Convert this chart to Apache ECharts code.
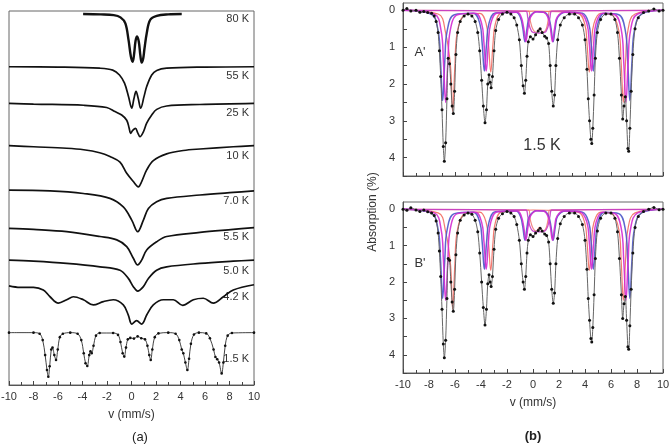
<!DOCTYPE html>
<html><head><meta charset="utf-8">
<script src="https://cdn.jsdelivr.net/npm/echarts@6/dist/echarts.min.js"></script>
<style>html,body{margin:0;padding:0;background:#fff}#c{width:671px;height:444px}</style>
</head><body><div id="c"></div>
<script>
// ---------- DATA ----------
// Panel (a): temperatures, vertical stacking offsets and spectra [v (mm/s), relative absorption]
const temps = ['80 K', '55 K', '25 K', '10 K', '7.0 K', '5.5 K', '5.0 K', '4.2 K', '1.5 K'];
const offsets = [0.08, 1.49, 2.47, 3.6, 4.79, 5.81, 6.66, 7.35, 8.6];
const sp80 = [[-3.95,0],[-2.5,0.01],[-1.45,0.03],[-0.9,0.09],[-0.5,0.25],[-0.24,0.7],[-0.05,1.14],[0.1,1.28],[0.22,1.05],[0.33,0.72],[0.46,0.6],[0.6,0.75],[0.72,1.1],[0.83,1.3],[0.95,1.2],[1.05,0.95],[1.24,0.52],[1.52,0.16],[2.06,0.05],[3,0.01],[4.1,0]];
const sp55 = [[-10,0],[-6,0.01],[-2.6,0.04],[-1.53,0.09],[-0.98,0.22],[-0.57,0.44],[-0.24,0.8],[0.02,1.11],[0.2,0.85],[0.37,0.66],[0.55,0.85],[0.75,1.11],[1.02,0.8],[1.24,0.53],[1.65,0.22],[2.06,0.1],[2.87,0.04],[6,0.01],[10,0]];
const sp25 = [[-10,0],[-8,0.02],[-3.9,0.05],[-2.03,0.11],[-1.35,0.22],[-0.8,0.31],[-0.39,0.45],[-0.2,0.65],[-0.07,0.8],[0.1,0.72],[0.33,0.67],[0.5,0.78],[0.69,0.89],[0.97,0.76],[1.24,0.53],[1.65,0.31],[2.06,0.16],[2.87,0.07],[5.59,0.03],[10,0]];
const sp10 = [[-10,0],[-8,0.03],[-5.3,0.07],[-3.9,0.11],[-2.6,0.19],[-1.76,0.29],[-0.94,0.44],[-0.39,0.74],[0.15,0.96],[0.56,1.1],[0.83,0.96],[1.24,0.65],[1.78,0.4],[2.87,0.22],[4.23,0.13],[5.59,0.09],[8.31,0.03],[10,0]];
const sp7 = [[-10,0],[-6.65,0.02],[-3.93,0.09],[-1.76,0.22],[-0.67,0.45],[0.02,0.8],[0.51,1.11],[0.97,0.8],[1.38,0.49],[2.05,0.31],[2.87,0.22],[5.59,0.13],[8.31,0.06],[10,0.02]];
const sp55b = [[-10,0],[-8,0.03],[-5.29,0.09],[-2.57,0.22],[-1.2,0.31],[-0.39,0.49],[0.15,0.8],[0.5,0.98],[0.83,0.85],[1.24,0.58],[2.05,0.36],[2.87,0.22],[5.59,0.11],[8.31,0.03],[10,-0.02]];
const sp50 = [[-10,0],[-8,0.03],[-5.29,0.09],[-2.57,0.18],[-0.94,0.27],[-0.26,0.49],[0.15,0.71],[0.5,0.83],[0.97,0.71],[1.38,0.49],[2.05,0.27],[2.87,0.18],[5.59,0.09],[8.31,0.03],[10,0]];
const sp42 = [[-10,0],[-9.1,0.04],[-8,0.04],[-7.2,0.11],[-6.65,0.29],[-5.97,0.46],[-5.29,0.37],[-4.75,0.29],[-3.93,0.37],[-3.12,0.51],[-2.3,0.42],[-1.49,0.37],[-0.67,0.51],[-0.26,0.78],[0.02,1.02],[0.42,0.93],[0.83,1.02],[1.24,0.78],[1.78,0.51],[2.6,0.37],[3.41,0.37],[4.18,0.52],[5.05,0.37],[5.86,0.33],[6.68,0.46],[7.5,0.29],[8.31,0.11],[10,-0.03]];
const sp15a = [[-10,0],[-8,0],[-7.5,0.03],[-7.25,0.2],[-7.05,0.6],[-6.9,1.0],[-6.79,1.18],[-6.68,0.9],[-6.55,0.45],[-6.45,0.4],[-6.3,0.6],[-6.16,0.73],[-6.02,0.45],[-5.85,0.12],[-5.6,0.03],[-5,0],[-4.4,0.03],[-4.1,0.2],[-3.9,0.55],[-3.75,0.82],[-3.61,0.89],[-3.45,0.6],[-3.35,0.5],[-3.25,0.55],[-3.1,0.35],[-2.9,0.08],[-2.6,0.01],[-1.5,0.01],[-1.1,0.06],[-0.9,0.25],[-0.72,0.55],[-0.59,0.64],[-0.45,0.4],[-0.3,0.18],[-0.1,0.14],[0.2,0.16],[0.5,0.1],[0.8,0.15],[1.1,0.18],[1.3,0.35],[1.45,0.6],[1.57,0.73],[1.7,0.45],[1.9,0.12],[2.2,0.02],[3,0],[3.6,0.03],[3.9,0.2],[4.1,0.45],[4.23,0.55],[4.4,0.8],[4.56,1.0],[4.7,0.7],[4.85,0.3],[5.1,0.05],[5.5,0],[6.1,0.02],[6.4,0.15],[6.7,0.45],[6.85,0.65],[7.0,0.71],[7.15,0.8],[7.36,1.09],[7.5,0.8],[7.65,0.35],[7.85,0.08],[8.2,0.01],[10,0]];
const spectraA = [sp80, sp55, sp25, sp10, sp7, sp55b, sp50, sp42, sp15a];

// Panel (b): 1.5 K spectra A' and B' (absorption %)
const specA = [[-10,0],[-9.7,-0.05],[-9.4,0.02],[-9,0],[-8.7,0.05],[-8.4,0.03],[-8.1,0.06],[-7.8,0.08],[-7.6,0.15],[-7.45,0.3],[-7.3,0.6],[-7.2,1.1],[-7.1,1.8],[-7.0,2.7],[-6.9,3.7],[-6.82,4.1],[-6.72,3.6],[-6.62,2.4],[-6.52,1.3],[-6.42,1.45],[-6.32,2.0],[-6.22,2.6],[-6.13,2.8],[-6.03,2.2],[-5.93,1.2],[-5.8,0.6],[-5.6,0.3],[-5.3,0.15],[-5.0,0.1],[-4.7,0.15],[-4.45,0.3],[-4.25,0.6],[-4.1,1.1],[-3.95,1.9],[-3.82,2.6],[-3.69,3.05],[-3.58,2.7],[-3.48,2.0],[-3.38,1.75],[-3.3,1.95],[-3.22,2.1],[-3.12,1.8],[-3.0,1.1],[-2.87,0.55],[-2.65,0.25],[-2.35,0.1],[-2.0,0.05],[-1.7,0.1],[-1.45,0.2],[-1.25,0.4],[-1.05,0.8],[-0.9,1.5],[-0.76,2.05],[-0.66,2.25],[-0.56,1.9],[-0.46,1.25],[-0.36,0.85],[-0.2,0.72],[0,0.78],[0.2,0.66],[0.4,0.56],[0.55,0.5],[0.7,0.6],[0.9,0.7],[1.05,0.75],[1.2,0.9],[1.32,1.5],[1.44,2.2],[1.56,2.6],[1.66,2.3],[1.76,1.5],[1.9,0.8],[2.1,0.4],[2.4,0.2],[2.8,0.1],[3.2,0.1],[3.5,0.2],[3.8,0.4],[4.0,0.8],[4.15,1.6],[4.25,2.4],[4.35,3.0],[4.45,3.5],[4.52,3.62],[4.6,3.2],[4.7,2.3],[4.8,1.3],[4.95,0.6],[5.2,0.25],[5.6,0.1],[6.0,0.1],[6.3,0.25],[6.5,0.6],[6.65,1.3],[6.8,2.3],[6.9,2.95],[7.0,2.6],[7.1,2.35],[7.2,3.0],[7.3,3.75],[7.36,3.83],[7.45,3.2],[7.55,2.2],[7.68,1.2],[7.85,0.5],[8.1,0.2],[8.5,0.06],[8.9,0.02],[9.3,-0.04],[9.7,0.02],[10,0]];
const specB = [[-10,0],[-9.7,0.03],[-9.4,-0.04],[-9,0.02],[-8.7,0.06],[-8.4,0.02],[-8.1,0.07],[-7.8,0.1],[-7.6,0.17],[-7.45,0.32],[-7.3,0.65],[-7.2,1.15],[-7.1,1.85],[-7.0,2.75],[-6.9,3.7],[-6.82,4.08],[-6.72,3.6],[-6.62,2.45],[-6.52,1.35],[-6.42,1.4],[-6.32,2.0],[-6.22,2.55],[-6.13,2.8],[-6.03,2.2],[-5.93,1.25],[-5.8,0.65],[-5.6,0.3],[-5.3,0.16],[-5.0,0.1],[-4.7,0.14],[-4.45,0.3],[-4.25,0.62],[-4.1,1.2],[-3.95,2.0],[-3.82,2.7],[-3.69,3.18],[-3.58,2.75],[-3.48,2.05],[-3.38,1.8],[-3.3,2.0],[-3.22,2.12],[-3.12,1.85],[-3.0,1.1],[-2.87,0.55],[-2.65,0.25],[-2.35,0.12],[-2.0,0.06],[-1.7,0.1],[-1.45,0.2],[-1.25,0.42],[-1.05,0.85],[-0.9,1.5],[-0.76,2.0],[-0.66,2.2],[-0.56,1.85],[-0.46,1.2],[-0.36,0.85],[-0.2,0.7],[0,0.75],[0.2,0.65],[0.4,0.58],[0.55,0.52],[0.7,0.6],[0.9,0.68],[1.05,0.72],[1.2,0.9],[1.32,1.5],[1.44,2.2],[1.56,2.58],[1.66,2.3],[1.76,1.5],[1.9,0.8],[2.1,0.4],[2.4,0.2],[2.8,0.1],[3.2,0.1],[3.5,0.2],[3.8,0.42],[4.0,0.85],[4.15,1.65],[4.25,2.45],[4.35,3.05],[4.45,3.55],[4.52,3.65],[4.6,3.25],[4.7,2.35],[4.8,1.35],[4.95,0.6],[5.2,0.25],[5.6,0.1],[6.0,0.1],[6.3,0.25],[6.5,0.62],[6.65,1.35],[6.8,2.35],[6.9,3.0],[7.0,2.6],[7.1,2.4],[7.2,3.05],[7.3,3.78],[7.36,3.85],[7.45,3.2],[7.55,2.2],[7.68,1.2],[7.85,0.5],[8.1,0.2],[8.5,0.06],[8.9,0.0],[9.3,-0.05],[9.7,0.01],[10,0]];

// Fitted sub-spectra (shared by A' and B')
const compBlue = [[-10,0],[-7.85,0.1],[-7.3,0.55],[-7.12,1.35],[-6.95,2.45],[-6.78,1.35],[-6.6,0.55],[-6.05,0.12],[-4.6,0.08],[-4.09,0.36],[-3.91,0.9],[-3.74,1.65],[-3.57,0.9],[-3.39,0.36],[-2.9,0.07],[-1.3,0.05],[-0.97,0.19],[-0.79,0.47],[-0.62,0.85],[-0.45,0.47],[-0.27,0.19],[0.3,0.04],[0.85,0.05],[1.2,0.19],[1.38,0.47],[1.55,0.85],[1.72,0.47],[1.9,0.19],[2.5,0.05],[3.8,0.08],[4.29,0.36],[4.47,0.9],[4.64,1.65],[4.81,0.9],[4.99,0.36],[5.5,0.08],[6.6,0.12],[7.1,0.55],[7.28,1.35],[7.45,2.45],[7.62,1.35],[7.8,0.55],[8.35,0.1],[10,0]];
const compMagenta = [[-10,0],[-7.6,0.1],[-7.07,0.55],[-6.89,1.4],[-6.72,2.5],[-6.55,1.4],[-6.37,0.55],[-5.8,0.12],[-4.45,0.08],[-3.95,0.36],[-3.77,0.9],[-3.6,1.65],[-3.43,0.9],[-3.25,0.36],[-2.75,0.07],[-1.2,0.05],[-0.9,0.19],[-0.72,0.47],[-0.55,0.85],[-0.38,0.47],[-0.2,0.19],[0.3,0.04],[0.8,0.05],[1.15,0.19],[1.33,0.47],[1.5,0.85],[1.67,0.47],[1.85,0.19],[2.4,0.05],[3.65,0.08],[4.15,0.36],[4.33,0.9],[4.5,1.65],[4.67,0.9],[4.85,0.36],[5.35,0.08],[6.3,0.12],[6.8,0.55],[6.98,1.4],[7.15,2.5],[7.32,1.4],[7.5,0.55],[8.05,0.1],[10,0]];
const compRed = [[-10,0],[-7.3,0.1],[-6.73,0.6],[-6.35,1.5],[-6.18,2.75],[-6.01,1.5],[-5.83,0.6],[-5.2,0.12],[-4.1,0.08],[-3.6,0.37],[-3.42,0.92],[-3.25,1.68],[-3.08,0.92],[-2.9,0.37],[-2.4,0.07],[0,0.02],[3.45,0.08],[3.98,0.37],[4.16,0.92],[4.33,1.68],[4.5,0.92],[4.68,0.37],[5.2,0.08],[6.05,0.12],[6.6,0.55],[6.78,1.4],[6.95,2.5],[7.12,1.4],[7.3,0.55],[7.85,0.1],[10,0]];
const compCentreMagenta = [[-10,0],[-0.55,0.02],[-0.4,0.2],[-0.25,0.45],[0,0.6],[0.45,0.62],[0.9,0.6],[1.15,0.45],[1.3,0.2],[1.45,0.02],[10,0]];
const compCentreRed = [[-10,0],[-0.35,0.02],[-0.2,0.3],[0,0.52],[0.25,0.6],[0.5,0.5],[0.75,0.6],[1.0,0.52],[1.15,0.3],[1.3,0.02],[10,0]];

const yTickLabelsB = [0, 1, 2, 3, 4];
const yTickMarksB = [0, 0.5, 1, 1.5, 2, 2.5, 3, 3.5, 4, 4.5];

// ---------- CHART ----------
const chart = echarts.init(document.getElementById('c'), null, {renderer: 'canvas'});
const font = 'Liberation Sans, Arial, sans-serif';
const frame = {show: true, borderColor: '#666', borderWidth: 1, backgroundColor: 'transparent', outerBoundsMode: 'none', containLabel: false};

function xAx(grid, showLabels, name) {
  return {
    type: 'value', gridIndex: grid, min: -10, max: 10, interval: 2,
    axisLine: {show: true, onZero: false, lineStyle: {color: '#555', width: 1}},
    axisTick: {show: true, inside: true, length: 4, lineStyle: {color: '#444'}},
    minorTick: {show: true, splitNumber: 2, length: 3, lineStyle: {color: '#444'}},
    splitLine: {show: false},
    axisLabel: {show: showLabels, fontSize: 11, color: '#333', fontFamily: font, margin: 6},
    name: name || '', nameLocation: 'middle', nameGap: 24,
    nameTextStyle: {fontSize: 12, color: '#333', fontFamily: font}
  };
}

const series = [];
spectraA.forEach((sp, i) => {
  const isDots = i === spectraA.length - 1;
  series.push({
    type: 'line', xAxisIndex: 0, yAxisIndex: 0, smooth: 0.35,
    data: sp.map(p => [p[0], offsets[i] + p[1]]),
    showSymbol: isDots, symbol: 'circle', symbolSize: 2.6,
    itemStyle: {color: '#111'},
    lineStyle: {color: '#111', width: i === 0 ? 2.4 : (isDots ? 0.8 : 1.7)},
    silent: true, animation: false, z: 3
  });
});

const comps = [
  {d: compRed, c: '#f26a60', w: 1.2},
  {d: compCentreRed, c: '#f07a78', w: 1.2},
  {d: compBlue, c: '#4b55c8', w: 1.5},
  {d: compMagenta, c: '#d42ad2', w: 1.5},
  {d: compCentreMagenta, c: '#c43cc8', w: 1.3}
];
[[1, specA], [2, specB]].forEach(([gi, spec]) => {
  comps.forEach(cp => {
    series.push({
      type: 'line', xAxisIndex: gi, yAxisIndex: gi, smooth: 0.4, showSymbol: false,
      data: cp.d, lineStyle: {color: cp.c, width: cp.w, opacity: 0.9},
      silent: true, animation: false, z: 2
    });
  });
  series.push({
    type: 'line', xAxisIndex: gi, yAxisIndex: gi, smooth: 0.3,
    data: spec, showSymbol: true, symbol: 'circle', symbolSize: 3,
    itemStyle: {color: '#111'}, lineStyle: {color: '#666', width: 1},
    silent: true, animation: false, z: 4
  });
});

function yAxB(grid) {
  return {
    type: 'value', gridIndex: grid, min: -0.2, max: 4.5, inverse: true,
    axisLine: {show: true, onZero: false, lineStyle: {color: '#555'}},
    axisTick: {show: true, inside: true, length: 4, customValues: yTickMarksB, lineStyle: {color: '#444'}},
    axisLabel: {show: true, fontSize: 11, color: '#333', fontFamily: font, margin: 8, customValues: yTickLabelsB},
    splitLine: {show: false}
  };
}

const option = {
  backgroundColor: '#fff',
  animation: false,
  grid: [
    Object.assign({left: 9, top: 11, width: 245, height: 374}, frame),
    Object.assign({left: 403, top: 3, width: 260, height: 173}, frame),
    Object.assign({left: 403, top: 202, width: 260, height: 171}, frame)
  ],
  xAxis: [xAx(0, true, 'v (mm/s)'), xAx(1, false), xAx(2, true, 'v (mm/s)')],
  yAxis: [
    {type: 'value', gridIndex: 0, min: 0, max: 10, inverse: true, show: true,
     axisLine: {show: false, onZero: false}, axisTick: {show: false}, axisLabel: {show: false}, splitLine: {show: false}},
    yAxB(1), yAxB(2)
  ],
  series: series,
  graphic: []
};

const labelY = [19, 76, 113, 156, 201, 237, 271, 297, 359];
temps.forEach((t, i) => {
  option.graphic.push({type: 'text', x: 249, y: labelY[i], style: {text: t, fill: '#333', font: '11px ' + font, textAlign: 'right', textVerticalAlign: 'middle'}});
});
option.graphic.push(
  {type: 'text', x: 420, y: 52, style: {text: "A'", fill: '#333', font: '13px ' + font, textAlign: 'center', textVerticalAlign: 'middle'}},
  {type: 'text', x: 542, y: 146, style: {text: '1.5 K', fill: '#333', font: '16px ' + font, textAlign: 'center', textVerticalAlign: 'middle'}},
  {type: 'text', x: 420, y: 263, style: {text: "B'", fill: '#333', font: '13px ' + font, textAlign: 'center', textVerticalAlign: 'middle'}},
  {type: 'text', x: 373, y: 212, rotation: Math.PI / 2, style: {text: 'Absorption (%)', fill: '#333', font: '12px ' + font, textAlign: 'center', textVerticalAlign: 'middle'}},
  {type: 'text', x: 140, y: 437, style: {text: '(a)', fill: '#222', font: '13px ' + font, textAlign: 'center', textVerticalAlign: 'middle'}},
  {type: 'text', x: 533, y: 436, style: {text: '(b)', fill: '#222', font: 'bold 13px ' + font, textAlign: 'center', textVerticalAlign: 'middle'}}
);

chart.setOption(option);
</script>
</body></html>
